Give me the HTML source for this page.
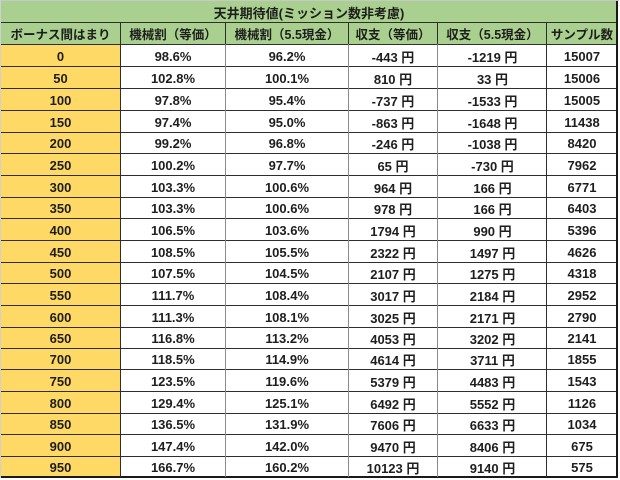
<!DOCTYPE html>
<html><head><meta charset="utf-8">
<style>
*{margin:0;padding:0;box-sizing:border-box}
html,body{width:620px;height:480px;background:#fff;overflow:hidden}
body{position:relative;font-family:"Liberation Sans","Noto Sans CJK JP",sans-serif;font-weight:bold;color:#1e1e1e}
.a{position:absolute}
.cell{position:absolute;display:flex;align-items:center;justify-content:center;font-size:13px;white-space:nowrap;padding-top:2px}
.hd{font-size:12.5px;padding-top:0}
.hl{position:absolute;left:1px;width:617px;height:1px;background:#2e2e2e}
.vl{position:absolute;width:1px}
.dk{background:#2e2e2e}
.gr{background:#8a8a8a}
</style></head><body>
<!-- backgrounds -->
<div class="a" style="left:0;top:0;width:619px;height:1px;background:#c8c8c8"></div>
<div class="a" style="left:0;top:0;width:1px;height:478px;background:#d0d0d0"></div>
<div class="a" style="left:1px;top:1px;width:616px;height:43px;background:#a9d08e"></div>
<div class="a" style="left:1px;top:44px;width:119px;height:433px;background:#ffd966"></div>

<!-- title -->
<div class="cell hd" style="left:1px;top:1px;width:616px;height:21px;font-size:13px;padding-top:1px">天井期待値(ミッション数非考慮)</div>

<!-- header -->
<div class="cell hd" style="left:1px;top:22px;width:119px;height:22px">ボーナス間はまり</div>
<div class="cell hd" style="left:120px;top:22px;width:106px;height:22px">機械割（等価）</div>
<div class="cell hd" style="left:226px;top:22px;width:122px;height:22px">機械割（5.5現金）</div>
<div class="cell hd" style="left:348px;top:22px;width:90px;height:22px">収支（等価）</div>
<div class="cell hd" style="left:438px;top:22px;width:109px;height:22px">収支（5.5現金）</div>
<div class="cell hd" style="left:547px;top:22px;width:70px;height:22px">サンプル数</div>

<!-- data rows -->
<div id="rows"></div>

<!-- horizontal lines -->
<div class="hl" style="top:22px"></div>
<div class="hl" style="top:44px"></div>
<div class="hl" style="top:66px"></div>
<div class="hl" style="top:88px"></div>
<div class="hl" style="top:110px"></div>
<div class="hl" style="top:132px"></div>
<div class="hl" style="top:153px"></div>
<div class="hl" style="top:175px"></div>
<div class="hl" style="top:197px"></div>
<div class="hl" style="top:218px"></div>
<div class="hl" style="top:240px"></div>
<div class="hl" style="top:262px"></div>
<div class="hl" style="top:283px"></div>
<div class="hl" style="top:305px"></div>
<div class="hl" style="top:327px"></div>
<div class="hl" style="top:348px"></div>
<div class="hl" style="top:369px"></div>
<div class="hl" style="top:391px"></div>
<div class="hl" style="top:413px"></div>
<div class="hl" style="top:434px"></div>
<div class="hl" style="top:456px"></div>
<div class="hl" style="top:476px;height:2px;background:#1a1a1a"></div>

<!-- vertical lines header -->
<div class="vl dk" style="left:120px;top:22px;height:22px"></div>
<div class="vl dk" style="left:225px;top:22px;height:22px"></div>
<div class="vl dk" style="left:348px;top:22px;height:22px"></div>
<div class="vl dk" style="left:437px;top:22px;height:22px"></div>
<div class="vl dk" style="left:546px;top:22px;height:22px"></div>
<!-- vertical lines data -->
<div class="vl dk" style="left:120px;top:44px;height:433px"></div>
<div class="vl gr" style="left:225px;top:44px;height:433px"></div>
<div class="vl gr" style="left:348px;top:44px;height:433px"></div>
<div class="vl gr" style="left:437px;top:44px;height:433px"></div>
<div class="vl dk" style="left:546px;top:44px;height:433px"></div>
<div class="vl dk" style="left:616px;top:1px;height:477px;width:2px;background:#1a1a1a"></div>

<div class="cell" style="left:1px;top:44px;width:119px;height:22px">0</div>
<div class="cell" style="left:120px;top:44px;width:106px;height:22px">98.6%</div>
<div class="cell" style="left:226px;top:44px;width:122px;height:22px">96.2%</div>
<div class="cell" style="left:348px;top:44px;width:90px;height:22px">-443 円</div>
<div class="cell" style="left:438px;top:44px;width:109px;height:22px">-1219 円</div>
<div class="cell" style="left:547px;top:44px;width:70px;height:22px">15007</div>

<div class="cell" style="left:1px;top:66px;width:119px;height:22px">50</div>
<div class="cell" style="left:120px;top:66px;width:106px;height:22px">102.8%</div>
<div class="cell" style="left:226px;top:66px;width:122px;height:22px">100.1%</div>
<div class="cell" style="left:348px;top:66px;width:90px;height:22px">810 円</div>
<div class="cell" style="left:438px;top:66px;width:109px;height:22px">33 円</div>
<div class="cell" style="left:547px;top:66px;width:70px;height:22px">15006</div>

<div class="cell" style="left:1px;top:88px;width:119px;height:22px">100</div>
<div class="cell" style="left:120px;top:88px;width:106px;height:22px">97.8%</div>
<div class="cell" style="left:226px;top:88px;width:122px;height:22px">95.4%</div>
<div class="cell" style="left:348px;top:88px;width:90px;height:22px">-737 円</div>
<div class="cell" style="left:438px;top:88px;width:109px;height:22px">-1533 円</div>
<div class="cell" style="left:547px;top:88px;width:70px;height:22px">15005</div>

<div class="cell" style="left:1px;top:110px;width:119px;height:22px">150</div>
<div class="cell" style="left:120px;top:110px;width:106px;height:22px">97.4%</div>
<div class="cell" style="left:226px;top:110px;width:122px;height:22px">95.0%</div>
<div class="cell" style="left:348px;top:110px;width:90px;height:22px">-863 円</div>
<div class="cell" style="left:438px;top:110px;width:109px;height:22px">-1648 円</div>
<div class="cell" style="left:547px;top:110px;width:70px;height:22px">11438</div>

<div class="cell" style="left:1px;top:132px;width:119px;height:21px">200</div>
<div class="cell" style="left:120px;top:132px;width:106px;height:21px">99.2%</div>
<div class="cell" style="left:226px;top:132px;width:122px;height:21px">96.8%</div>
<div class="cell" style="left:348px;top:132px;width:90px;height:21px">-246 円</div>
<div class="cell" style="left:438px;top:132px;width:109px;height:21px">-1038 円</div>
<div class="cell" style="left:547px;top:132px;width:70px;height:21px">8420</div>

<div class="cell" style="left:1px;top:153px;width:119px;height:22px">250</div>
<div class="cell" style="left:120px;top:153px;width:106px;height:22px">100.2%</div>
<div class="cell" style="left:226px;top:153px;width:122px;height:22px">97.7%</div>
<div class="cell" style="left:348px;top:153px;width:90px;height:22px">65 円</div>
<div class="cell" style="left:438px;top:153px;width:109px;height:22px">-730 円</div>
<div class="cell" style="left:547px;top:153px;width:70px;height:22px">7962</div>

<div class="cell" style="left:1px;top:175px;width:119px;height:22px">300</div>
<div class="cell" style="left:120px;top:175px;width:106px;height:22px">103.3%</div>
<div class="cell" style="left:226px;top:175px;width:122px;height:22px">100.6%</div>
<div class="cell" style="left:348px;top:175px;width:90px;height:22px">964 円</div>
<div class="cell" style="left:438px;top:175px;width:109px;height:22px">166 円</div>
<div class="cell" style="left:547px;top:175px;width:70px;height:22px">6771</div>

<div class="cell" style="left:1px;top:197px;width:119px;height:21px">350</div>
<div class="cell" style="left:120px;top:197px;width:106px;height:21px">103.3%</div>
<div class="cell" style="left:226px;top:197px;width:122px;height:21px">100.6%</div>
<div class="cell" style="left:348px;top:197px;width:90px;height:21px">978 円</div>
<div class="cell" style="left:438px;top:197px;width:109px;height:21px">166 円</div>
<div class="cell" style="left:547px;top:197px;width:70px;height:21px">6403</div>

<div class="cell" style="left:1px;top:218px;width:119px;height:22px">400</div>
<div class="cell" style="left:120px;top:218px;width:106px;height:22px">106.5%</div>
<div class="cell" style="left:226px;top:218px;width:122px;height:22px">103.6%</div>
<div class="cell" style="left:348px;top:218px;width:90px;height:22px">1794 円</div>
<div class="cell" style="left:438px;top:218px;width:109px;height:22px">990 円</div>
<div class="cell" style="left:547px;top:218px;width:70px;height:22px">5396</div>

<div class="cell" style="left:1px;top:240px;width:119px;height:22px">450</div>
<div class="cell" style="left:120px;top:240px;width:106px;height:22px">108.5%</div>
<div class="cell" style="left:226px;top:240px;width:122px;height:22px">105.5%</div>
<div class="cell" style="left:348px;top:240px;width:90px;height:22px">2322 円</div>
<div class="cell" style="left:438px;top:240px;width:109px;height:22px">1497 円</div>
<div class="cell" style="left:547px;top:240px;width:70px;height:22px">4626</div>

<div class="cell" style="left:1px;top:262px;width:119px;height:21px">500</div>
<div class="cell" style="left:120px;top:262px;width:106px;height:21px">107.5%</div>
<div class="cell" style="left:226px;top:262px;width:122px;height:21px">104.5%</div>
<div class="cell" style="left:348px;top:262px;width:90px;height:21px">2107 円</div>
<div class="cell" style="left:438px;top:262px;width:109px;height:21px">1275 円</div>
<div class="cell" style="left:547px;top:262px;width:70px;height:21px">4318</div>

<div class="cell" style="left:1px;top:283px;width:119px;height:22px">550</div>
<div class="cell" style="left:120px;top:283px;width:106px;height:22px">111.7%</div>
<div class="cell" style="left:226px;top:283px;width:122px;height:22px">108.4%</div>
<div class="cell" style="left:348px;top:283px;width:90px;height:22px">3017 円</div>
<div class="cell" style="left:438px;top:283px;width:109px;height:22px">2184 円</div>
<div class="cell" style="left:547px;top:283px;width:70px;height:22px">2952</div>

<div class="cell" style="left:1px;top:305px;width:119px;height:22px">600</div>
<div class="cell" style="left:120px;top:305px;width:106px;height:22px">111.3%</div>
<div class="cell" style="left:226px;top:305px;width:122px;height:22px">108.1%</div>
<div class="cell" style="left:348px;top:305px;width:90px;height:22px">3025 円</div>
<div class="cell" style="left:438px;top:305px;width:109px;height:22px">2171 円</div>
<div class="cell" style="left:547px;top:305px;width:70px;height:22px">2790</div>

<div class="cell" style="left:1px;top:327px;width:119px;height:21px">650</div>
<div class="cell" style="left:120px;top:327px;width:106px;height:21px">116.8%</div>
<div class="cell" style="left:226px;top:327px;width:122px;height:21px">113.2%</div>
<div class="cell" style="left:348px;top:327px;width:90px;height:21px">4053 円</div>
<div class="cell" style="left:438px;top:327px;width:109px;height:21px">3202 円</div>
<div class="cell" style="left:547px;top:327px;width:70px;height:21px">2141</div>

<div class="cell" style="left:1px;top:348px;width:119px;height:21px">700</div>
<div class="cell" style="left:120px;top:348px;width:106px;height:21px">118.5%</div>
<div class="cell" style="left:226px;top:348px;width:122px;height:21px">114.9%</div>
<div class="cell" style="left:348px;top:348px;width:90px;height:21px">4614 円</div>
<div class="cell" style="left:438px;top:348px;width:109px;height:21px">3711 円</div>
<div class="cell" style="left:547px;top:348px;width:70px;height:21px">1855</div>

<div class="cell" style="left:1px;top:369px;width:119px;height:22px">750</div>
<div class="cell" style="left:120px;top:369px;width:106px;height:22px">123.5%</div>
<div class="cell" style="left:226px;top:369px;width:122px;height:22px">119.6%</div>
<div class="cell" style="left:348px;top:369px;width:90px;height:22px">5379 円</div>
<div class="cell" style="left:438px;top:369px;width:109px;height:22px">4483 円</div>
<div class="cell" style="left:547px;top:369px;width:70px;height:22px">1543</div>

<div class="cell" style="left:1px;top:391px;width:119px;height:22px">800</div>
<div class="cell" style="left:120px;top:391px;width:106px;height:22px">129.4%</div>
<div class="cell" style="left:226px;top:391px;width:122px;height:22px">125.1%</div>
<div class="cell" style="left:348px;top:391px;width:90px;height:22px">6492 円</div>
<div class="cell" style="left:438px;top:391px;width:109px;height:22px">5552 円</div>
<div class="cell" style="left:547px;top:391px;width:70px;height:22px">1126</div>

<div class="cell" style="left:1px;top:413px;width:119px;height:21px">850</div>
<div class="cell" style="left:120px;top:413px;width:106px;height:21px">136.5%</div>
<div class="cell" style="left:226px;top:413px;width:122px;height:21px">131.9%</div>
<div class="cell" style="left:348px;top:413px;width:90px;height:21px">7606 円</div>
<div class="cell" style="left:438px;top:413px;width:109px;height:21px">6633 円</div>
<div class="cell" style="left:547px;top:413px;width:70px;height:21px">1034</div>

<div class="cell" style="left:1px;top:434px;width:119px;height:22px">900</div>
<div class="cell" style="left:120px;top:434px;width:106px;height:22px">147.4%</div>
<div class="cell" style="left:226px;top:434px;width:122px;height:22px">142.0%</div>
<div class="cell" style="left:348px;top:434px;width:90px;height:22px">9470 円</div>
<div class="cell" style="left:438px;top:434px;width:109px;height:22px">8406 円</div>
<div class="cell" style="left:547px;top:434px;width:70px;height:22px">675</div>

<div class="cell" style="left:1px;top:456px;width:119px;height:20px">950</div>
<div class="cell" style="left:120px;top:456px;width:106px;height:20px">166.7%</div>
<div class="cell" style="left:226px;top:456px;width:122px;height:20px">160.2%</div>
<div class="cell" style="left:348px;top:456px;width:90px;height:20px">10123 円</div>
<div class="cell" style="left:438px;top:456px;width:109px;height:20px">9140 円</div>
<div class="cell" style="left:547px;top:456px;width:70px;height:20px">575</div>
</body></html>
